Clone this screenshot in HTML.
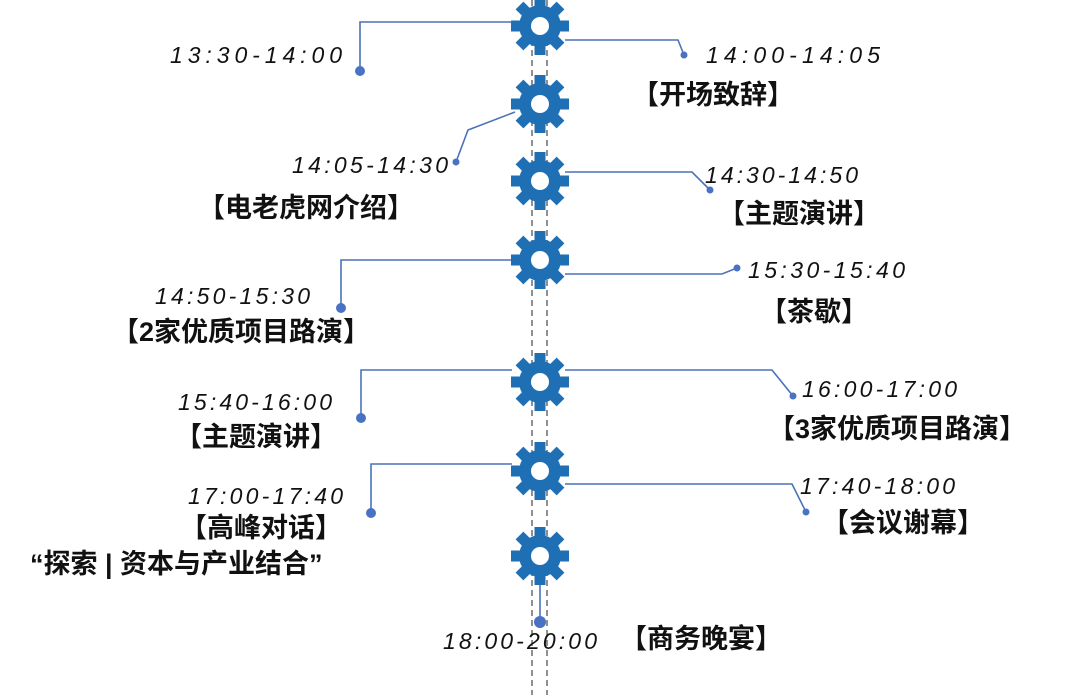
<!DOCTYPE html>
<html><head><meta charset="utf-8"><style>
html,body{margin:0;padding:0;background:#fff;width:1080px;height:695px;overflow:hidden}
.t{font-family:"Liberation Sans",sans-serif;font-style:italic;font-size:23px;fill:#111}
.c{font-family:"Liberation Sans","Noto Sans CJK SC",sans-serif;font-weight:bold;font-size:27px;fill:#111}
.l{fill:none;stroke:#4a72b8;stroke-width:1.6}
.d{fill:#4a72c4}
</style></head><body>
<svg width="1080" height="695" viewBox="0 0 1080 695" xmlns="http://www.w3.org/2000/svg">
<defs>
<g id="gear">
<circle r="21" fill="#1f6fb5"/>
<rect x="-5.5" y="-29" width="11" height="14" fill="#1f6fb5"/>
<rect x="-5.5" y="-29" width="11" height="14" fill="#1f6fb5" transform="rotate(45)"/>
<rect x="-5.5" y="-29" width="11" height="14" fill="#1f6fb5" transform="rotate(90)"/>
<rect x="-5.5" y="-29" width="11" height="14" fill="#1f6fb5" transform="rotate(135)"/>
<rect x="-5.5" y="-29" width="11" height="14" fill="#1f6fb5" transform="rotate(180)"/>
<rect x="-5.5" y="-29" width="11" height="14" fill="#1f6fb5" transform="rotate(225)"/>
<rect x="-5.5" y="-29" width="11" height="14" fill="#1f6fb5" transform="rotate(270)"/>
<rect x="-5.5" y="-29" width="11" height="14" fill="#1f6fb5" transform="rotate(315)"/>
<circle r="9" fill="#fff"/>
</g>
</defs>
<line x1="532" y1="0" x2="532" y2="695" stroke="#555" stroke-width="1.3" stroke-dasharray="6,4"/>
<line x1="547" y1="0" x2="547" y2="695" stroke="#555" stroke-width="1.3" stroke-dasharray="6,4"/>

<polyline class="l" points="512,22 360,22 360,71" stroke="#8fb0dc"/>
<circle class="d" cx="360" cy="71" r="5" fill="#7fa6d8"/>
<polyline class="l" points="565,40 678,40 684,55"/>
<circle class="d" cx="684" cy="55" r="3.5"/>
<polyline class="l" points="515,112 468,130 456,162"/>
<circle class="d" cx="456" cy="162" r="3.5"/>
<polyline class="l" points="565,172 692,172 710,190"/>
<circle class="d" cx="710" cy="190" r="3.5"/>
<polyline class="l" points="512,260 341,260 341,308"/>
<circle class="d" cx="341" cy="308" r="5"/>
<polyline class="l" points="565,274 722,274 737,268"/>
<circle class="d" cx="737" cy="268" r="3.5"/>
<polyline class="l" points="512,370 361,370 361,418"/>
<circle class="d" cx="361" cy="418" r="5"/>
<polyline class="l" points="565,370 772,370 793,396"/>
<circle class="d" cx="793" cy="396" r="3.5"/>
<polyline class="l" points="512,464 371,464 371,513"/>
<circle class="d" cx="371" cy="513" r="5"/>
<polyline class="l" points="565,484 792,484 806,512"/>
<circle class="d" cx="806" cy="512" r="3.5"/>
<line class="l" x1="540" y1="580" x2="540" y2="622" stroke-width="2"/>
<circle class="d" cx="540" cy="622" r="6"/>

<use href="#gear" x="540" y="26"/>
<use href="#gear" x="540" y="104"/>
<use href="#gear" x="540" y="181"/>
<use href="#gear" x="540" y="260"/>
<use href="#gear" x="540" y="382"/>
<use href="#gear" x="540" y="471"/>
<use href="#gear" x="540" y="556"/>

<text class="t" x="170" y="63" textLength="172" lengthAdjust="spacing">13:30-14:00</text>
<text class="t" x="706" y="63" textLength="174" lengthAdjust="spacing">14:00-14:05</text>
<text class="c" x="632" y="104">【开场致辞】</text>
<text class="t" x="292" y="173" textLength="156" lengthAdjust="spacing">14:05-14:30</text>
<text class="c" x="198" y="217">【电老虎网介绍】</text>
<text class="t" x="705" y="183" textLength="153" lengthAdjust="spacing">14:30-14:50</text>
<text class="c" x="718" y="223">【主题演讲】</text>
<text class="t" x="155" y="304" textLength="155" lengthAdjust="spacing">14:50-15:30</text>
<text class="c" x="112" y="341">【2家优质项目路演】</text>
<text class="t" x="748" y="278" textLength="157" lengthAdjust="spacing">15:30-15:40</text>
<text class="c" x="760" y="321">【茶歇】</text>
<text class="t" x="178" y="410" textLength="154" lengthAdjust="spacing">15:40-16:00</text>
<text class="c" x="175" y="446">【主题演讲】</text>
<text class="t" x="802" y="397" textLength="155" lengthAdjust="spacing">16:00-17:00</text>
<text class="c" x="768" y="438">【3家优质项目路演】</text>
<text class="t" x="188" y="504" textLength="155" lengthAdjust="spacing">17:00-17:40</text>
<text class="c" x="180" y="537">【高峰对话】</text>
<text class="c" x="30" y="573">“探索 | 资本与产业结合”</text>
<text class="t" x="800" y="494" textLength="155" lengthAdjust="spacing">17:40-18:00</text>
<text class="c" x="822" y="532">【会议谢幕】</text>
<text class="t" x="443" y="649" textLength="154" lengthAdjust="spacing">18:00-20:00</text>
<text class="c" x="620" y="648">【商务晚宴】</text>
</svg>
</body></html>
